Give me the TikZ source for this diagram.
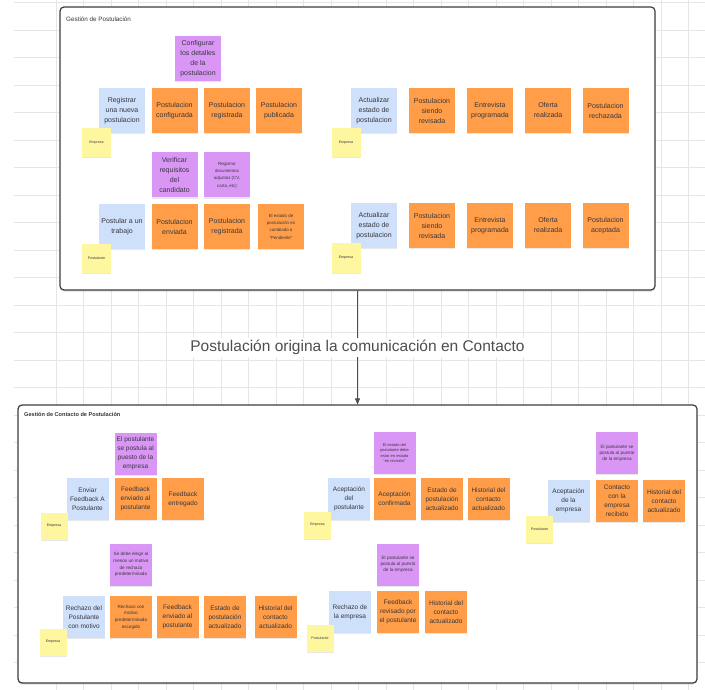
\documentclass[tikz,border=0pt]{standalone}
\usepackage{fontspec}
\setmainfont{Liberation Sans}
\usetikzlibrary{arrows.meta, positioning, shadows}

\definecolor{gridcolor}{RGB}{230,230,230}
\definecolor{framecolor}{RGB}{60,60,60}
\definecolor{notetext}{RGB}{55,55,62}
\definecolor{actblue}{RGB}{206,224,250}
\definecolor{evtorange}{RGB}{255,157,72}
\definecolor{rulepurple}{RGB}{218,150,245}
\definecolor{roleyellow}{RGB}{255,246,160}
\definecolor{flowgray}{RGB}{78,78,82}

\tikzset{
  gridline/.style={gridcolor, line width=0.6pt},
  frame/.style={draw=framecolor, fill=white, line width=1.2pt, rounded corners=4pt,
    inner sep=0pt, drop shadow={opacity=0.25, shadow xshift=0pt, shadow yshift=-1.5pt}},
  frametitle/.style={anchor=west, text=notetext, inner sep=0pt},
  note/.style={align=center, inner sep=1pt, text=notetext,
    drop shadow={opacity=0.18, shadow xshift=0.4pt, shadow yshift=-1.4pt}},
  topnote/.style={note, minimum width=46, minimum height=45, font=\fontsize{7}{10}\selectfont},
  botnote/.style={note, minimum width=42, minimum height=42, font=\fontsize{6.5}{9}\selectfont},
  small/.style={font=\fontsize{4.4}{7.3}\selectfont},
  act/.style={fill=actblue},
  evt/.style={fill=evtorange},
  rule/.style={fill=rulepurple},
  role/.style={note, fill=roleyellow, minimum width=#1, minimum height=#1,
    font=\fontsize{3.6}{4}\selectfont},
  role/.default=29,
  flow/.style={draw=flowgray, line width=0.9pt, -{Triangle[length=6pt, width=5pt]}},
  flowlabel/.style={fill=white, text=flowgray, inner sep=2pt, font=\fontsize{15.5}{18}\selectfont}
}

\begin{document}
\begin{tikzpicture}[x=1pt, y=-1pt]
  \useasboundingbox (0,0) rectangle (705,690);
  \fill[white] (0,0) rectangle (705,690);
  % background grid
  \foreach \gx in {56,83.5,...,705} \draw[gridline] (\gx,0) -- (\gx,690);
  \foreach \gy in {2.5,30,...,690} \draw[gridline] (14,\gy) -- (705,\gy);

  % frames
  \node[frame, minimum width=595, minimum height=283] (postframe) at (357.5,148.5) {};
  \node[frame, minimum width=679, minimum height=278] (contactframe) at (357.5,544) {};
  \node[frametitle, font=\fontsize{6.3}{7}\selectfont] (posttitle) at (66,19) {Gestión de Postulación};
  \node[frametitle, font=\fontsize{5.6}{7}\selectfont\bfseries] (contacttitle) at (24,414) {Gestión de Contacto de Postulación};

  \draw[flow] (postframe.south) -- node[flowlabel] (flowtext) {Postulación origina la comunicación en Contacto} (contactframe.north);

  % Gestion de Postulacion: registrar
  \node[topnote, rule] (cfgdet) at (198,58.5) {Configurar\\los detalles\\de la\\postulacion};
  \node[topnote, act] (regnew) at (122,110.5) {Registrar\\una nueva\\postulacion};
  \node[topnote, evt] (pconf) at (174.5,110.5) {Postulacion\\configurada};
  \node[topnote, evt] (preg) at (227,110.5) {Postulacion\\registrada};
  \node[topnote, evt] (ppub) at (279,110.5) {Postulacion\\publicada};
  \node[role] (regrole) at (96.5,142.5) {Empresa};

  % postular
  \node[topnote, rule] (verif) at (174.5,175) {Verificar\\requisitos\\del\\candidato};
  \node[topnote, rule, small] (docs) at (227,175) {Registrar\\documentos\\adjuntos (CV,\\carta, etc)};
  \node[topnote, act] (apply) at (122,226.5) {Postular a un\\trabajo};
  \node[topnote, evt] (psent) at (174.5,226.5) {Postulacion\\enviada};
  \node[topnote, evt] (preg2) at (227,226.5) {Postulacion\\registrada};
  \node[topnote, evt, small] (ppend) at (281,226.5) {El estado de\\postulación es\\cambiado a\\“Pendiente”};
  \node[role] (applyrole) at (96.5,258.5) {Postulante};

  % actualizar (rechazo)
  \node[topnote, act] (upd1) at (374,110.5) {Actualizar\\estado de\\postulacion};
  \node[topnote, evt] (rev1) at (432,110.5) {Postulacion\\siendo\\revisada};
  \node[topnote, evt] (int1) at (490,110.5) {Entrevista\\programada};
  \node[topnote, evt] (off1) at (548,110.5) {Oferta\\realizada};
  \node[topnote, evt] (rej1) at (605.5,110.5) {Postulacion\\rechazada};
  \node[role] (upd1role) at (346,142.5) {Empresa};

  % actualizar (aceptada)
  \node[topnote, act] (upd2) at (374,225.5) {Actualizar\\estado de\\postulacion};
  \node[topnote, evt] (rev2) at (432,225.5) {Postulacion\\siendo\\revisada};
  \node[topnote, evt] (int2) at (490,225.5) {Entrevista\\programada};
  \node[topnote, evt] (off2) at (548,225.5) {Oferta\\realizada};
  \node[topnote, evt] (acc2) at (605.5,225.5) {Postulacion\\aceptada};
  \node[role] (upd2role) at (346,258) {Empresa};

  % Gestion de Contacto: feedback
  \node[botnote, rule] (fbrule) at (135.5,453.5) {El postulante\\se postula al\\puesto de la\\empresa};
  \node[botnote, act] (sendfb) at (87.5,499) {Enviar\\Feedback A\\Postulante};
  \node[botnote, evt] (fbsent) at (135.5,499) {Feedback\\enviado al\\postulante};
  \node[botnote, evt] (fbdone) at (183,499) {Feedback\\entregado};
  \node[role=27] (sendrole) at (54,526) {Empresa};

  % rechazo del postulante
  \node[botnote, rule, small, font=\fontsize{4.6}{6.7}\selectfont] (motrule) at (131,564.5) {Se debe elegir al\\menos un motivo\\de rechazo\\predeterminado};
  \node[botnote, act] (rejcand) at (84,617) {Rechazo del\\Postulante\\con motivo};
  \node[botnote, evt, font=\fontsize{4.6}{6.7}\selectfont] (motpick) at (131,617) {Rechazo con\\motivo\\predeterminado\\escogido};
  \node[botnote, evt] (fbsent2) at (177.5,617) {Feedback\\enviado al\\postulante};
  \node[botnote, evt] (stupd2) at (225,617) {Estado de\\postulación\\actualizado};
  \node[botnote, evt] (hist2) at (275.5,617) {Historial del\\contacto\\actualizado};
  \node[role=27] (rejcandrole) at (53,642) {Empresa};

  % aceptacion del postulante
  \node[botnote, rule, font=\fontsize{4}{5.2}\selectfont] (revrule) at (394.5,453) {El estado del\\postulante debe\\estar en estado\\“en revisión”};
  \node[botnote, act] (acccand) at (349,499) {Aceptación\\del\\postulante};
  \node[botnote, evt] (accconf) at (394.5,499) {Aceptación\\confirmada};
  \node[botnote, evt] (stupd3) at (442,499) {Estado de\\postulación\\actualizado};
  \node[botnote, evt] (hist3) at (488.5,499) {Historial del\\contacto\\actualizado};
  \node[role=27] (acccandrole) at (317.5,525) {Empresa};

  % rechazo de la empresa
  \node[botnote, rule, font=\fontsize{4.6}{6}\selectfont] (applyrule4) at (398,564.5) {El postulante se\\postula al puesto\\de la empresa};
  \node[botnote, act] (rejcomp) at (350,612) {Rechazo de\\la empresa};
  \node[botnote, evt] (fbread) at (398,612) {Feedback\\revisado por\\el postulante};
  \node[botnote, evt] (hist4) at (446,612) {Historial del\\contacto\\actualizado};
  \node[role=27] (rejcomprole) at (320,638) {Postulante};

  % aceptacion de la empresa
  \node[botnote, rule, font=\fontsize{4.6}{6}\selectfont] (applyrule5) at (617,453) {El postulante se\\postula al puesto\\de la empresa};
  \node[botnote, act] (acccomp) at (568.5,501) {Aceptación\\de la\\empresa};
  \node[botnote, evt] (contrec) at (617,501) {Contacto\\con la\\empresa\\recibido};
  \node[botnote, evt] (hist5) at (664,501) {Historial del\\contacto\\actualizado};
  \node[role=27] (acccomprole) at (539.5,529.5) {Postulante};
\end{tikzpicture}
\end{document}
